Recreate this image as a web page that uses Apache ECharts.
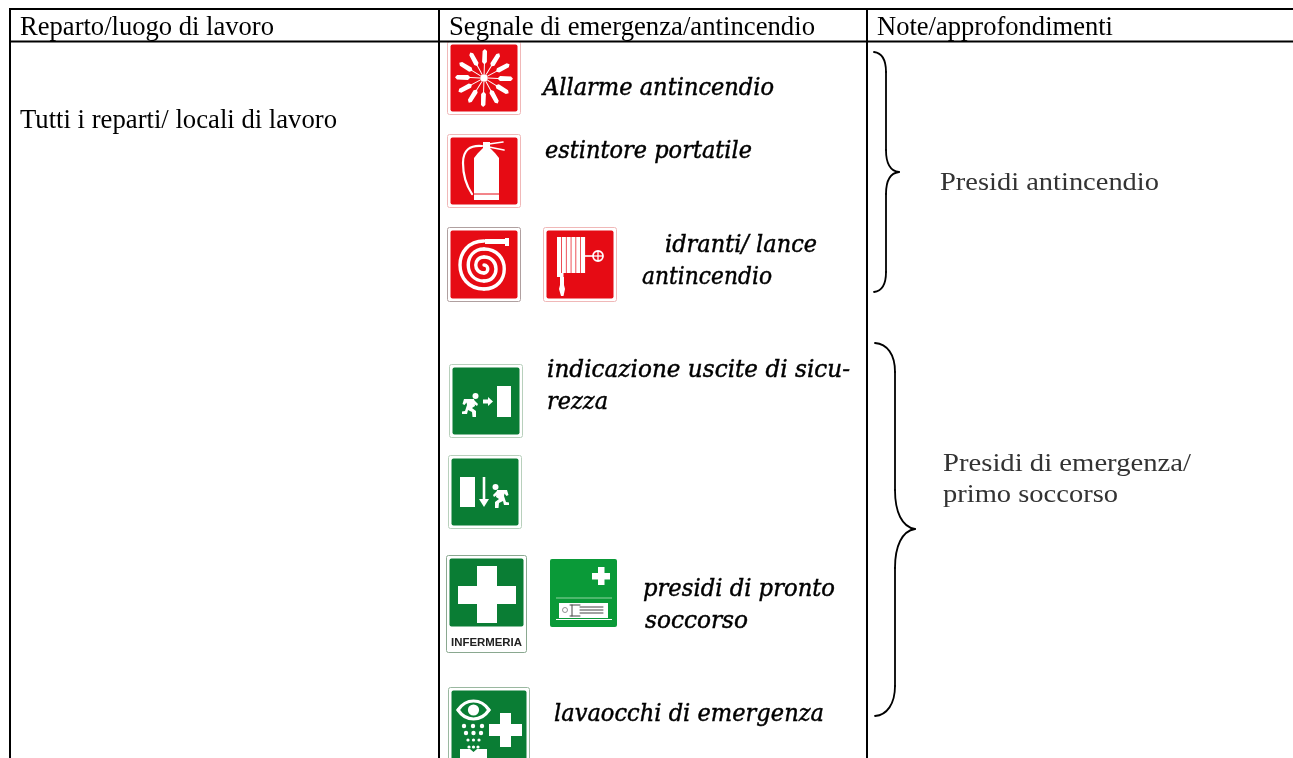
<!DOCTYPE html>
<html><head><meta charset="utf-8">
<style>html,body{margin:0;padding:0;background:#fff}#c{width:1293px;height:758px}</style>
<script src="https://cdn.jsdelivr.net/npm/echarts@6/dist/echarts.min.js"></script>
</head><body><div id="c"></div>
<script>
const headers = ['Reparto/luogo di lavoro','Segnale di emergenza/antincendio','Note/approfondimenti'];
const rowLabel = ['Tutti i reparti/ locali di lavoro'];
const signCaptions = ['Allarme antincendio','estintore portatile','idranti/ lance','antincendio','indicazione uscite di sicu-','rezza','presidi di pronto','soccorso','lavaocchi di emergenza'];
const noteLabels = ['Presidi antincendio','Presidi di emergenza/','primo soccorso'];
const signWord = ['INFERMERIA'];

const RED='#e60b14', GREEN='#0a7d34', GREEN2='#0a9a38', W='#fff';
const mc=document.createElement('canvas').getContext('2d');
const els=[];
function fitText(s,x0,x1,yc,font,fill,stroke){
  mc.font=font; const w=mc.measureText(s).width;
  els.push({type:'text',x:x0,y:yc,scaleX:(x1-x0)/w,originX:0,silent:true,z:5,
    style:{text:s,font:font,fill:fill,align:'left',verticalAlign:'middle',stroke:stroke||null,lineWidth:stroke?0.45:0}});
}
function rect(x,y,w,h,fill,stroke,r){
  els.push({type:'rect',silent:true,z:2,shape:{x:x,y:y,width:w,height:h,r:r||0},style:{fill:fill||'none',stroke:stroke||null,lineWidth:stroke?1:0}});
}
function poly(pts,fill){els.push({type:'polygon',silent:true,z:3,shape:{points:pts},style:{fill:fill||W}});}
function path(d,stroke,lw){
  const t=d.match(/[MLCZ]|-?[\d.]+/g); let i=0,cx=0,cy=0,sx=0,sy=0,cmd='';
  const st={stroke:stroke,lineWidth:lw,fill:'none',lineCap:'round'};
  const num=()=>parseFloat(t[i++]);
  while(i<t.length){
    if(/[MLCZ]/.test(t[i])) cmd=t[i++];
    if(cmd==='M'){cx=sx=num();cy=sy=num();cmd='L';}
    else if(cmd==='L'){const x=num(),y=num();els.push({type:'line',silent:true,z:3,shape:{x1:cx,y1:cy,x2:x,y2:y},style:st});cx=x;cy=y;}
    else if(cmd==='C'){const a=num(),b=num(),c=num(),e=num(),x=num(),y=num();
      els.push({type:'bezierCurve',silent:true,z:3,shape:{x1:cx,y1:cy,cpx1:a,cpy1:b,cpx2:c,cpy2:e,x2:x,y2:y},style:st});cx=x;cy=y;}
  }
}
function circ(x,y,r,fill,stroke,lw){els.push({type:'circle',silent:true,z:3,shape:{cx:x,cy:y,r:r},style:{fill:fill||'none',stroke:stroke||null,lineWidth:lw||0}});}
function seg(x1,y1,x2,y2,c,lw){els.push({type:'line',silent:true,z:4,shape:{x1,y1,x2,y2},style:{stroke:c,lineWidth:lw}});}
function sign(x,y,w,h,fill,edge,ih){
  rect(x+.5,y+.5,w-1,h-1,'#fff',edge,2);
  rect(x+3.5,y+3.5,w-7,(ih||h)-7,fill,null,2);
}
function runner(x,y,flip){
  const f=v=>flip?-v:v;
  const P=(a,b)=>[x+f(a),y+b];
  circ(x+f(7.5),y+3,3,W);
  poly([P(-4,6),P(6,6),P(7,13),P(4,15),P(8,18),P(8,24),P(4.5,24),P(4,19),P(0,17),P(-1,21),P(-6,21),P(-6,18.5),P(-3,18),P(-1,12),P(-1.5,9.5),P(-3.5,12),P(-5.5,11)]);
  poly([P(6,7),P(10,11),P(9,13),P(6,11)]);
}

/* table rules */
seg(9,9,1293,9,'#000',2); seg(9,41.5,1293,41.5,'#000',2);
seg(10,9,10,758,'#000',2); seg(439,9,439,758,'#000',2); seg(867,9,867,758,'#000',2);

/* alarm */
sign(447,41,74,74,RED,'#f0b8b8');
(function(){const cx=484,cy=78,n=12;
 for(let k=0;k<n;k++){const a=k*Math.PI/6+0.03;const c=Math.cos(a),s=Math.sin(a);
  const pt=(r,t)=>[cx+r*c-t*s,cy+r*s+t*c];
  poly([pt(4,-.5),pt(14,-.5),pt(16,-2.4),pt(27,-2.2),pt(29,0),pt(27,2.2),pt(16,2.4),pt(14,.5),pt(4,.5)]);
 }
 circ(cx,cy,3.8,W);
})();
/* extinguisher */
sign(447,134,74,74,RED,'#f0b8b8');
poly([[483,142],[490,142],[490,148],[492,150],[495,153],[499,158],[499,200],[474,200],[474,158],[478,153],[481,150],[483,148]]);
seg(474,194,499,194,RED,1);
path('M482 146 C470 145 463 150 463 163 C463 175 466 185 472 194','#fff',2.2);
path('M489 144 L503 142 M489 147 L504 150','#fff',1.6);
/* hose */
sign(447,227,74,75,RED,'#b0a0a0');
path('M484 241 C452 241 452 289 484 289 C511 289 511 249 484 249 C463 249 463 281 484 281 C500 281 500 257 484 257 C473 257 473 273 484 273 C489 273 489 265 484 265','#fff',3.4);
rect(485,239,20,5,W); rect(505,238,4,8,W);
/* reel */
sign(543,227,74,75,RED,'#f0b8b8');
for(let i=0;i<6;i++) rect(557+i*4.8,237,4.1,36,W);
rect(557,273,6.5,4,W);
poly([[560,277],[564,277],[564,285],[565,289],[563.5,296],[561,296],[559,289],[560,285]]);
seg(585,256,593,256,W,1.6);
circ(598,256,5,RED,W,1.8); seg(593,256,603,256,W,1.3); seg(598,251,598,261,W,1.3);

/* exit 1 */
sign(449,364,74,74,GREEN,'#b8d0bc');
rect(497,386,14,31,W); runner(468,393,false);
poly([[483,399.5],[488,399.5],[488,397],[493,401.5],[488,406],[488,403.5],[483,403.5]]);
/* exit 2 */
sign(448,455,74,74,GREEN,'#b8d0bc');
rect(460,477,15,30,W);
seg(484,477,484,500,W,2.6); poly([[479,499],[489,499],[484,507]]);
runner(503,484,true);
/* infermeria */
sign(446,555,81,98,GREEN,'#8aa890',75);
rect(477,566,20,57,W); rect(458,586,58,18,W);
fitText(signWord[0],451,522,643,'bold 11px "Liberation Sans"','#222');
/* stretcher */
rect(550,559,67,68,GREEN2,null,2);
rect(598,567,6.5,18,W); rect(592,573,18,6.5,W);
seg(556,598,612,598,'#8fd6a0',1.2); rect(559,603,49,15,W); seg(556,619.5,612,619.5,W,1);
circ(565,610,2.5,W,'#777',.8);
path('M570 605 L580 605 M570 616 L580 616 M572 605 L572 616 M580 607 L603 607 M580 610 L603 610 M580 613 L603 613','#444',1);
/* eyewash */
sign(448,687,82,90,GREEN,'#9ab8a0');
path('M458 710 C466 698 481 698 489 710 C481 722 466 722 458 710','#fff',3.2);
circ(473.5,710,5.6,W);
[[464,726],[473,726],[482,726],[466,733],[473.5,733],[481,733],[468,740],[473.5,740],[479,740],[469,747],[473.5,747],[478,747]].forEach((p,i)=>circ(p[0],p[1],i<6?2.2:1.6,W));
rect(500,713,11,34,W); rect(489,724,33,12,W);
poly([[460,749],[470,749],[473.5,752],[477,749],[487,749],[487,758],[460,758]]);

/* braces */
path('M874 52 C882 53 886 60 886 72 L886 150 C886 162 890 171 899 172 C890 173 886 182 886 194 L886 272 C886 284 882 291 874 292','#000',1.8);
path('M875 343 C887 344 895 354 895 372 L895 490 C895 512 902 527 915 529 C902 531 895 546 895 568 L895 686 C895 704 887 715 875 716','#000',1.8);

/* text */
const HF='27px "Liberation Serif"', IF='italic 24px "DejaVu Serif"', NF='26px "Liberation Serif"';
fitText(headers[0],20,274,28,HF,'#000');
fitText(headers[1],449,815,28,HF,'#000');
fitText(headers[2],877,1113,28,HF,'#000');
fitText(rowLabel[0],20,337,121,HF,'#000');
const C=(i,a,b,y)=>fitText(signCaptions[i],a,b,y,IF,'#000','#000');
C(0,543,774,89);C(1,545,752,152);C(2,665,817,246);C(3,642,772,278);C(4,547,850,371);C(5,547,608,403);C(6,643,835,590);C(7,645,748,622);C(8,554,824,715);
fitText(noteLabels[0],940,1159,183,NF,'#333');
fitText(noteLabels[1],943,1191,464,NF,'#333');
fitText(noteLabels[2],943,1118,495,NF,'#333');

const chart=echarts.init(document.getElementById('c'),null,{renderer:'canvas'});
chart.setOption({animation:false,backgroundColor:'#fff',graphic:{elements:els}});
</script></body></html>
